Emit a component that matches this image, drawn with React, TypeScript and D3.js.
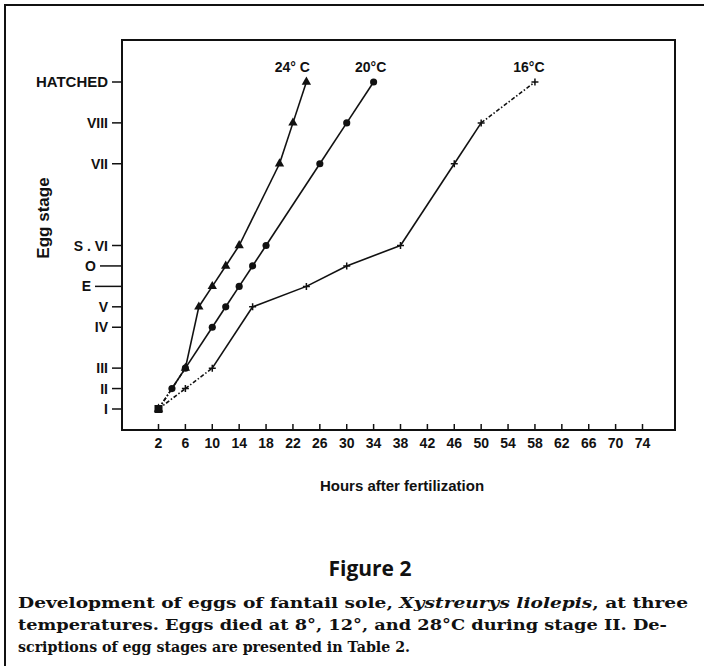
import React, { useEffect, useRef } from "react";
import * as d3 from "d3";

// egg stages, bottom to top, with their spacing on the axis
const stageLabels = ["I", "II", "III", "IV", "V", "E", "O", "S . VI", "VII", "VIII", "HATCHED"];
const stageLevels = [0, 1, 2, 4, 5, 6, 7, 8, 12, 14, 16];

const hourTicks = [2, 6, 10, 14, 18, 22, 26, 30, 34, 38, 42, 46, 50, 54, 58, 62, 66, 70, 74];

const hours24 = [2, 6, 8, 10, 12, 14, 20, 22, 24];
const stages24 = ["I", "III", "V", "E", "O", "S . VI", "VII", "VIII", "HATCHED"];

const hours20 = [2, 4, 6, 10, 12, 14, 16, 18, 26, 30, 34];
const stages20 = ["I", "II", "III", "IV", "V", "E", "O", "S . VI", "VII", "VIII", "HATCHED"];

const hours16 = [2, 6, 10, 16, 24, 30, 38, 46, 50, 58];
const stages16 = ["I", "II", "III", "V", "E", "O", "S . VI", "VII", "VIII", "HATCHED"];

const seriesNames = ["24° C", "20°C", "16°C"];

const captionLines = [
  "Development of eggs of fantail sole, ",
  "temperatures. Eggs died at 8°, 12°, and 28°C during stage II. De-",
  "scriptions of egg stages are presented in Table 2.",
];

export default function App() {
  const svgRef = useRef<SVGSVGElement>(null);

  useEffect(() => {
    const width = 704;
    const height = 666;
    const frame = { left: 122, right: 675, top: 40, bottom: 430 };
    const sans = "'Liberation Sans', Arial, Helvetica, sans-serif";

    const svg = d3.select(svgRef.current).attr("width", width).attr("height", height);
    svg.selectAll("*").remove();

    svg.append("rect").attr("width", width).attr("height", height).attr("fill", "#fff");

    // outer figure border (top and left visible)
    svg
      .append("path")
      .attr("d", `M5,${height} L5,5 L${width},5`)
      .attr("fill", "none")
      .attr("stroke", "#111")
      .attr("stroke-width", 2);

    const x = d3.scaleLinear().domain([2, 74]).range([158.5, 642.5]);
    const level = new Map(stageLabels.map((s, i) => [s, stageLevels[i]]));
    const y = d3.scaleLinear().domain([0, 16]).range([409, 82]);

    // plot frame
    svg
      .append("rect")
      .attr("x", frame.left)
      .attr("y", frame.top)
      .attr("width", frame.right - frame.left)
      .attr("height", frame.bottom - frame.top)
      .attr("fill", "none")
      .attr("stroke", "#111")
      .attr("stroke-width", 2);

    // x ticks (inward) and labels
    const xAxis = svg.append("g").attr("font-family", sans).attr("font-weight", "bold").attr("font-size", 14);
    xAxis
      .selectAll("line")
      .data(hourTicks)
      .join("line")
      .attr("x1", (d) => x(d))
      .attr("x2", (d) => x(d))
      .attr("y1", frame.bottom)
      .attr("y2", frame.bottom - 6)
      .attr("stroke", "#111")
      .attr("stroke-width", 1.5);
    xAxis
      .selectAll("text")
      .data(hourTicks)
      .join("text")
      .attr("x", (d) => x(d))
      .attr("y", frame.bottom + 18)
      .attr("text-anchor", "middle")
      .attr("fill", "#111")
      .text((d) => d);

    // y ticks (outward) and labels
    const tickLen = (s: string) => (s === "O" ? 22 : s === "E" ? 27 : 10);
    const yAxis = svg.append("g").attr("font-family", sans).attr("font-weight", "bold").attr("font-size", 14);
    yAxis
      .selectAll("line")
      .data(stageLabels)
      .join("line")
      .attr("x1", (d) => frame.left - tickLen(d))
      .attr("x2", frame.left)
      .attr("y1", (d) => y(level.get(d)!))
      .attr("y2", (d) => y(level.get(d)!))
      .attr("stroke", "#111")
      .attr("stroke-width", 1.5);
    yAxis
      .selectAll("text")
      .data(stageLabels)
      .join("text")
      .attr("x", (d) => frame.left - tickLen(d) - 4)
      .attr("y", (d) => y(level.get(d)!) + 5)
      .attr("text-anchor", "end")
      .attr("fill", "#111")
      .attr("textLength", (d) => (d === "HATCHED" ? 72 : null))
      .attr("lengthAdjust", "spacingAndGlyphs")
      .text((d) => d);

    // axis titles
    svg
      .append("text")
      .attr("transform", "translate(49,218) rotate(-90)")
      .attr("text-anchor", "middle")
      .attr("font-family", sans)
      .attr("font-weight", "bold")
      .attr("font-size", 17)
      .attr("fill", "#111")
      .text("Egg stage");
    svg
      .append("text")
      .attr("x", 402)
      .attr("y", 491)
      .attr("text-anchor", "middle")
      .attr("font-family", sans)
      .attr("font-weight", "bold")
      .attr("font-size", 15)
      .attr("fill", "#111")
      .text("Hours after fertilization");

    // series
    const series = [
      { name: seriesNames[0], hours: hours24, stages: stages24, marker: "triangle", dashed: [0], dx: -14 },
      { name: seriesNames[1], hours: hours20, stages: stages20, marker: "circle", dashed: [0], dx: -3 },
      { name: seriesNames[2], hours: hours16, stages: stages16, marker: "cross", dashed: [0, 1, 8], dx: -6 },
    ];

    const plot = svg.append("g");
    series.forEach((s) => {
      const pts = s.hours.map((h, i) => [x(h), y(level.get(s.stages[i])!)] as [number, number]);
      d3.pairs(pts).forEach(([a, b], i) => {
        plot
          .append("line")
          .attr("x1", a[0])
          .attr("y1", a[1])
          .attr("x2", b[0])
          .attr("y2", b[1])
          .attr("stroke", "#111")
          .attr("stroke-width", 1.6)
          .attr("stroke-dasharray", s.dashed.includes(i) ? "4,2,1.5,2" : null);
      });

      if (s.marker === "cross") {
        plot
          .selectAll(null)
          .data(pts)
          .join("path")
          .attr("d", (p) => `M${p[0] - 3.5},${p[1]}h7M${p[0]},${p[1] - 3.5}v7`)
          .attr("stroke", "#111")
          .attr("stroke-width", 1.5);
      } else {
        const sym =
          s.marker === "triangle" ? d3.symbol(d3.symbolTriangle, 38) : d3.symbol(d3.symbolCircle, 40);
        plot
          .selectAll(null)
          .data(pts)
          .join("path")
          .attr("transform", (p) => `translate(${p[0]},${p[1]})`)
          .attr("d", sym)
          .attr("fill", "#111");
      }

      const last = pts[pts.length - 1];
      svg
        .append("text")
        .attr("x", last[0] + s.dx)
        .attr("y", last[1] - 10)
        .attr("text-anchor", "middle")
        .attr("font-family", sans)
        .attr("font-weight", "bold")
        .attr("font-size", 14)
        .attr("fill", "#111")
        .text(s.name);
    });

    // common start point
    plot
      .append("rect")
      .attr("x", x(2) - 4)
      .attr("y", y(0) - 4)
      .attr("width", 8)
      .attr("height", 8)
      .attr("fill", "#111");

    // figure caption
    svg
      .append("text")
      .attr("x", 370)
      .attr("y", 576)
      .attr("text-anchor", "middle")
      .attr("font-family", "'Open Sans', sans-serif")
      .attr("font-weight", "bold")
      .attr("font-size", 21)
      .attr("fill", "#111")
      .text("Figure 2");

    const serif = "'DejaVu Serif', serif";
    const cap = svg.append("g").attr("font-family", serif).attr("font-weight", "bold").attr("font-size", 15).attr("fill", "#111");
    const l1 = cap
      .append("text")
      .attr("x", 18)
      .attr("y", 608)
      .attr("textLength", 670)
      .attr("lengthAdjust", "spacingAndGlyphs");
    l1.append("tspan").text(captionLines[0]);
    l1.append("tspan").attr("font-style", "italic").text("Xystreurys liolepis");
    l1.append("tspan").text(", at three");
    cap
      .append("text")
      .attr("x", 18)
      .attr("y", 630)
      .attr("textLength", 649)
      .attr("lengthAdjust", "spacingAndGlyphs")
      .text(captionLines[1]);
    cap
      .append("text")
      .attr("x", 18)
      .attr("y", 652)
      .attr("textLength", 392)
      .attr("lengthAdjust", "spacingAndGlyphs")
      .text(captionLines[2]);
  }, []);

  return (
    <svg ref={svgRef} style={{ position: "absolute", left: 0, top: 0, display: "block" }}></svg>
  );
}
